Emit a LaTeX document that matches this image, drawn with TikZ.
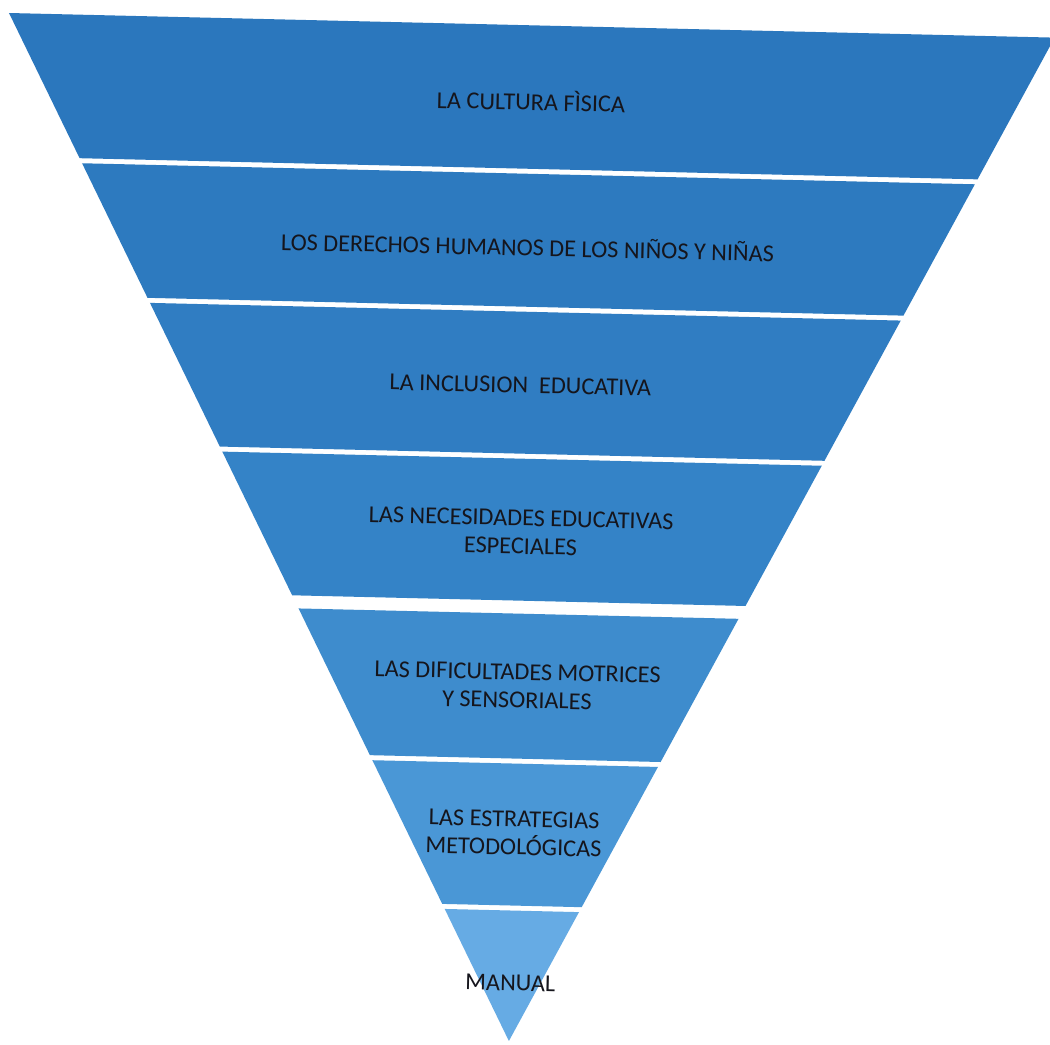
\documentclass[tikz,border=0pt]{standalone}
\usepackage{fontspec}
\setmainfont{Carlito}
\definecolor{banda1}{HTML}{2B77BD}
\definecolor{banda2}{HTML}{2D7ABF}
\definecolor{banda3}{HTML}{307DC2}
\definecolor{banda4}{HTML}{3483C7}
\definecolor{banda5}{HTML}{3E8CCD}
\definecolor{banda6}{HTML}{4A97D6}
\definecolor{banda7}{HTML}{66ABE4}
\definecolor{texto}{HTML}{15151C}
\tikzset{
  etiqueta/.style={align=center, font=\fontsize{6.9}{8}\selectfont, text=texto, inner sep=0pt},
}
\begin{document}
\begin{tikzpicture}[x=0.01cm, y=-0.01cm]
  \useasboundingbox (0,0) rectangle (1050,1045);
  \fill[white] (0,0) rectangle (1050,1045);
  \begin{scope}[shift={(9,13)}, rotate=-1.35, transform shape]
    % Franjas de la piramide invertida
    \begin{scope}
      \clip (0,0) -- (1046,0) -- (524,1016) -- cycle;
      \fill[banda1] (0,0) rectangle (1046,143.5);
      \fill[banda2] (0,148.5) rectangle (1046,281.5);
      \fill[banda3] (0,286.5) rectangle (1046,428.5);
      \fill[banda4] (0,433.5) rectangle (1046,575.5);
      \fill[banda5] (0,588.5) rectangle (1046,733.5);
      \fill[banda6] (0,738.5) rectangle (1046,880.5);
      \fill[banda7] (0,885.5) rectangle (1046,1016);
    \end{scope}

    % Textos de cada franja
    \node[etiqueta] (cultura) at (524,75) {LA CULTURA FÌSICA};
    \node[etiqueta] (derechos) at (524,221) {LOS DERECHOS HUMANOS DE LOS NIÑOS Y NIÑAS};
    \node[etiqueta] (inclusion) at (520,360) {LA INCLUSION\ \ EDUCATIVA};
    \node[etiqueta] (necesidades) at (524,507) {LAS NECESIDADES EDUCATIVAS\\ESPECIALES};
    \node[etiqueta] (dificultades) at (524,661) {LAS DIFICULTADES MOTRICES\\Y SENSORIALES};
    \node[etiqueta] (estrategias) at (524,808) {LAS ESTRATEGIAS\\METODOLÓGICAS};
    \node[etiqueta] (manual) at (524,958) {MANUAL};
  \end{scope}
\end{tikzpicture}
\end{document}
